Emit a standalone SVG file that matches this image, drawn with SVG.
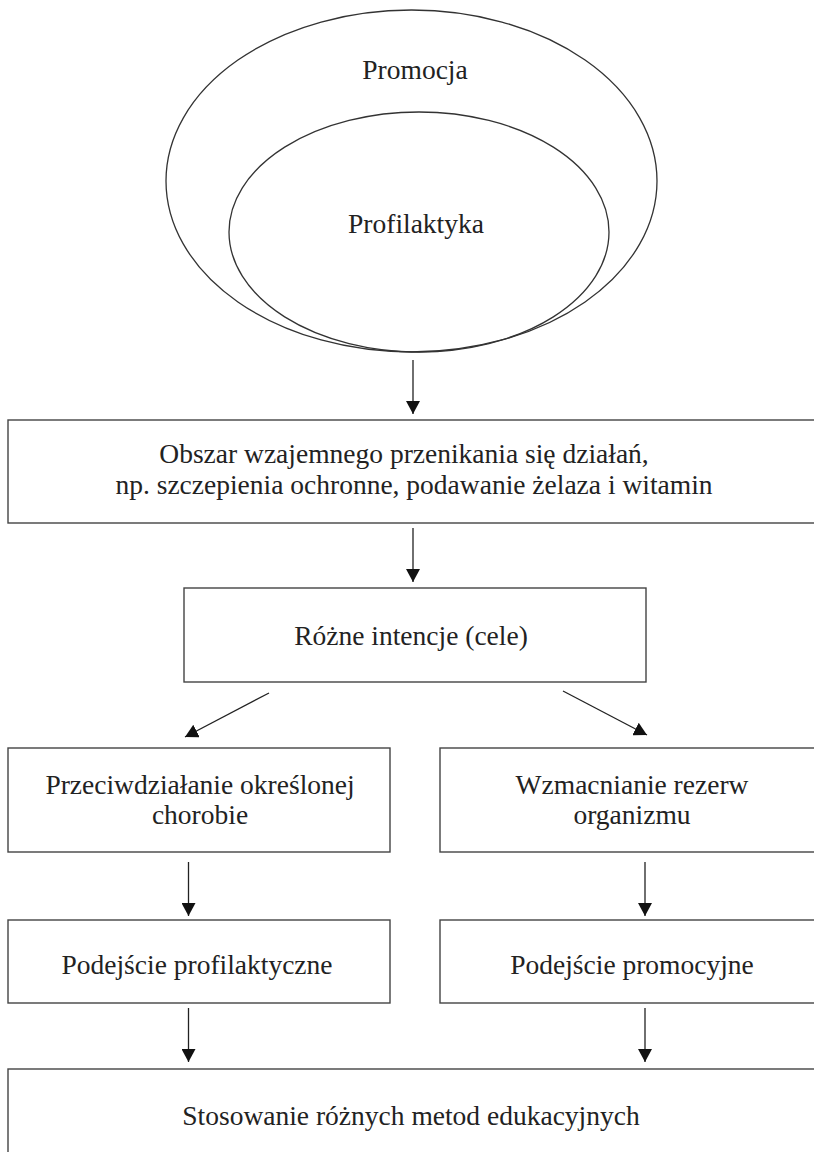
<svg xmlns="http://www.w3.org/2000/svg" width="814" height="1152" viewBox="0 0 814 1152">
<defs>
<style>
.shape{fill:none;stroke:#333;stroke-width:1.3}
.box{fill:none;stroke:#444;stroke-width:1.4}
.lbl{font-family:"Liberation Serif","Times New Roman",serif;font-size:27.5px;fill:#222;text-anchor:middle}
.conn{stroke:#222;stroke-width:1.3;fill:none;marker-end:url(#arr)}
</style>
<marker id="arr" markerUnits="userSpaceOnUse" markerWidth="14" markerHeight="14" refX="13" refY="7" orient="auto">
<path d="M0,0 L13,7 L0,14 z" fill="#111"/>
</marker>
</defs>
<rect width="814" height="1152" fill="#fff"/>
<g id="promocja">
<ellipse class="shape" cx="411.5" cy="181" rx="245.5" ry="171"/>
<text class="lbl" x="415" y="79">Promocja</text>
</g>
<g id="profilaktyka">
<ellipse class="shape" cx="419" cy="232" rx="190" ry="120"/>
<text class="lbl" x="416" y="233">Profilaktyka</text>
</g>
<g id="obszar">
<rect class="box" x="8" y="420" width="820" height="103"/>
<text class="lbl" x="404" y="463">Obszar wzajemnego przenikania się działań,</text>
<text class="lbl" x="414" y="494">np. szczepienia ochronne, podawanie żelaza i witamin</text>
</g>
<g id="intencje">
<rect class="box" x="184" y="588" width="462" height="94"/>
<text class="lbl" x="411" y="645">Różne intencje (cele)</text>
</g>
<g id="przeciwdzialanie">
<rect class="box" x="8" y="748" width="382" height="104"/>
<text class="lbl" x="200" y="794">Przeciwdziałanie określonej</text>
<text class="lbl" x="200" y="824">chorobie</text>
</g>
<g id="wzmacnianie">
<rect class="box" x="440" y="748" width="390" height="104"/>
<text class="lbl" x="632" y="794">Wzmacnianie rezerw</text>
<text class="lbl" x="632" y="824">organizmu</text>
</g>
<g id="profilaktyczne">
<rect class="box" x="8" y="920" width="382" height="83"/>
<text class="lbl" x="197" y="974">Podejście profilaktyczne</text>
</g>
<g id="promocyjne">
<rect class="box" x="440" y="920" width="390" height="83"/>
<text class="lbl" x="632" y="974">Podejście promocyjne</text>
</g>
<g id="edukacja">
<rect class="box" x="8" y="1069" width="820" height="100"/>
<text class="lbl" x="411" y="1125">Stosowanie różnych metod edukacyjnych</text>
</g>
<g id="connectors">
<line class="conn" x1="413" y1="360" x2="413" y2="414"/>
<line class="conn" x1="413" y1="528" x2="413" y2="582"/>
<line class="conn" x1="269" y1="693" x2="185" y2="737"/>
<line class="conn" x1="563" y1="691" x2="647" y2="735"/>
<line class="conn" x1="188.5" y1="862" x2="188.5" y2="916"/>
<line class="conn" x1="645" y1="862" x2="645" y2="916"/>
<line class="conn" x1="188.5" y1="1008" x2="188.5" y2="1062"/>
<line class="conn" x1="645" y1="1008" x2="645" y2="1062"/>
</g>
</svg>
